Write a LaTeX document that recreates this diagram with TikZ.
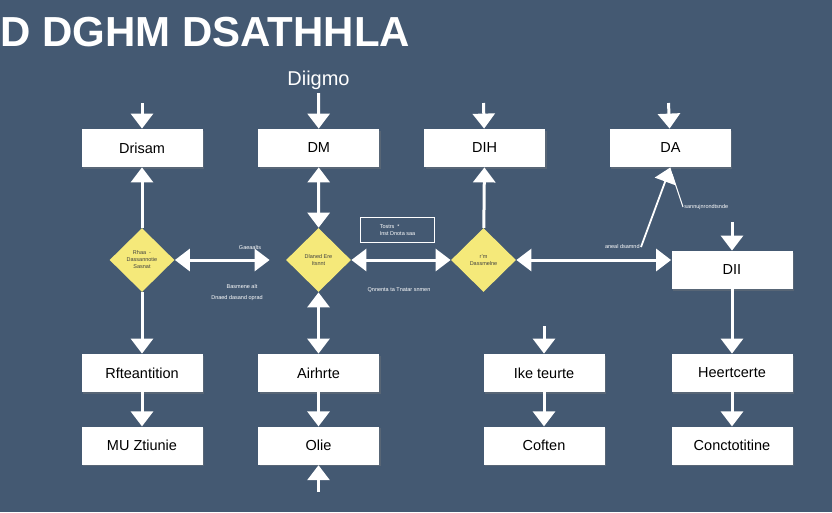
\documentclass[tikz,border=0pt]{standalone}
\usepackage{fontspec}
\setmainfont{Liberation Sans}
\usetikzlibrary{positioning,shapes.geometric,arrows.meta,shadows}
\definecolor{slatebg}{RGB}{68,89,114}
\definecolor{diayellow}{RGB}{245,233,122}
\tikzset{every picture/.style={line width=0.8pt}}

\begin{document}
\begin{tikzpicture}[x=1pt, y=-1pt, >={Triangle[width=22pt,length=15pt]},
    procbox/.style={rectangle, fill=white, minimum width=121pt, minimum height=38pt, font=\fontsize{14.5}{16}\selectfont, drop shadow={shadow xshift=1.5pt, shadow yshift=-1.5pt, opacity=0.35}},
    decide/.style={diamond, fill=diayellow, minimum width=65pt, minimum height=64pt, inner sep=0pt, align=center, font=\fontsize{5.5}{7}\selectfont, text=black!75},
    flow/.style={draw=white, line width=3pt},
    note/.style={text=white, font=\fontsize{5.5}{6.5}\selectfont, inner sep=1pt}]
\fill[slatebg] (0,0) rectangle (832,512);
\useasboundingbox (0,0) rectangle (832,512);

    % Heading
\node[anchor=base west, inner sep=0pt, text=white, font=\fontsize{42}{46}\selectfont\bfseries] (title) at (0,46) {D DGHM DSATHHLA};
\node[text=white, font=\fontsize{20}{22}\selectfont] (diigmo) at (318.5,80) {Diigmo};

    % Top row
\node[procbox] (drisam) at (142,148) {Drisam};
\node[procbox, right=55pt of drisam] (dm) {DM};
\node[procbox, right=44pt of dm] (dih) {DIH};
\node[procbox, right=64pt of dih] (da) {DA};

    % Decisions
\node[decide] (ldec) at (142,260) {Rhaa \ -\\Dassannotie\\Sasnat};
\node[decide] (mdec) at (318.5,260) {Dlaned Ere\\Itsnnt};
\node[decide] (rdec) at (483.5,260) {r'm\\Dassmelne};
\node[procbox] (dii) at (732,270) {DII};

    % Lower rows
\node[procbox] (rftean) at (142,373) {Rfteantition};
\node[procbox, below=34pt of rftean] (muz) {MU Ztiunie};
\node[procbox] (airh) at (318.5,373) {Airhrte};
\node[procbox, below=34pt of airh] (olie) {Olie};
\node[procbox] (ike) at (544,373) {Ike teurte};
\node[procbox, below=34pt of ike] (coften) {Coften};
\node[procbox] (heert) at (732,373) {Heertcerte};
\node[procbox, below=34pt of heert] (concto) {Conctotitine};

    % Side notes
\node[draw=white, line width=1pt, minimum width=74pt, minimum height=25pt, align=left, anchor=north west, text=white, font=\fontsize{5.5}{7}\selectfont] (tbox) at (360,217) {Tostrs \ *\\Inst Dnota saa};
\node[note, anchor=south] (lnoteA) at (250,251) {Gaeaalts};
\node[note] (lnoteB) at (242,287) {Basmene alt};
\node[note] (lnoteC) at (237,298) {Dnaed dasand oprad};
\node[note] (mnote) at (399,290) {Qnnenta ta Tnatar snmen};

    % Free ends
\coordinate (inDrisam) at (142,103);
\coordinate (inDih) at (483.5,103);
\coordinate (inDa) at (668.5,103);
\coordinate (inDii) at (732,222);
\coordinate (inIke) at (544,326);
\coordinate (inOlie) at (318.5,492);
\coordinate (daFoot) at (641,247);
\coordinate (daTip) at (672,174);
\coordinate (daNote) at (683,207);
\node[note, anchor=east] (dalbl) at (daFoot) {aneal dsamnd};
\node[note, anchor=west] (dalblB) at (daNote) {sannujnrondtsnde};

    % Connections
\draw[flow, ->] (inDrisam) -- (drisam);
\draw[flow, ->] (diigmo) -- (dm);
\draw[flow, ->] (inDih) -- (dih);
\draw[flow, ->] (inDa) -- (da);
\draw[flow, ->] (inDii) -- (dii);
\draw[flow, ->] (inIke) -- (ike);
\draw[flow, ->] (inOlie) -- (olie);

\draw[flow, ->] (ldec) -- (drisam);
\draw[flow, ->] (ldec) -- (rftean);
\draw[flow, <->] (mdec) -- (dm);
\draw[flow, <->] (mdec) -- (airh);
\draw[flow, ->] (rdec) -- (dih);
\draw[flow, ->] (dii) -- (heert);

\draw[flow, <->, shorten >=16pt] (ldec) -- (mdec);
\draw[flow, <->] (mdec) -- (rdec);
\draw[flow, <->] (rdec.east) -- (rdec.east -| dii.west);

\draw[flow, ->] (rftean) -- (muz);
\draw[flow, ->] (airh) -- (olie);
\draw[flow, ->] (ike) -- (coften);
\draw[flow, ->] (heert) -- (concto);

\draw[white, line width=1.8pt, ->] (daFoot) -- (da.south);
\draw[white, line width=1pt] (daTip) -- (daNote);
\end{tikzpicture}
\end{document}
